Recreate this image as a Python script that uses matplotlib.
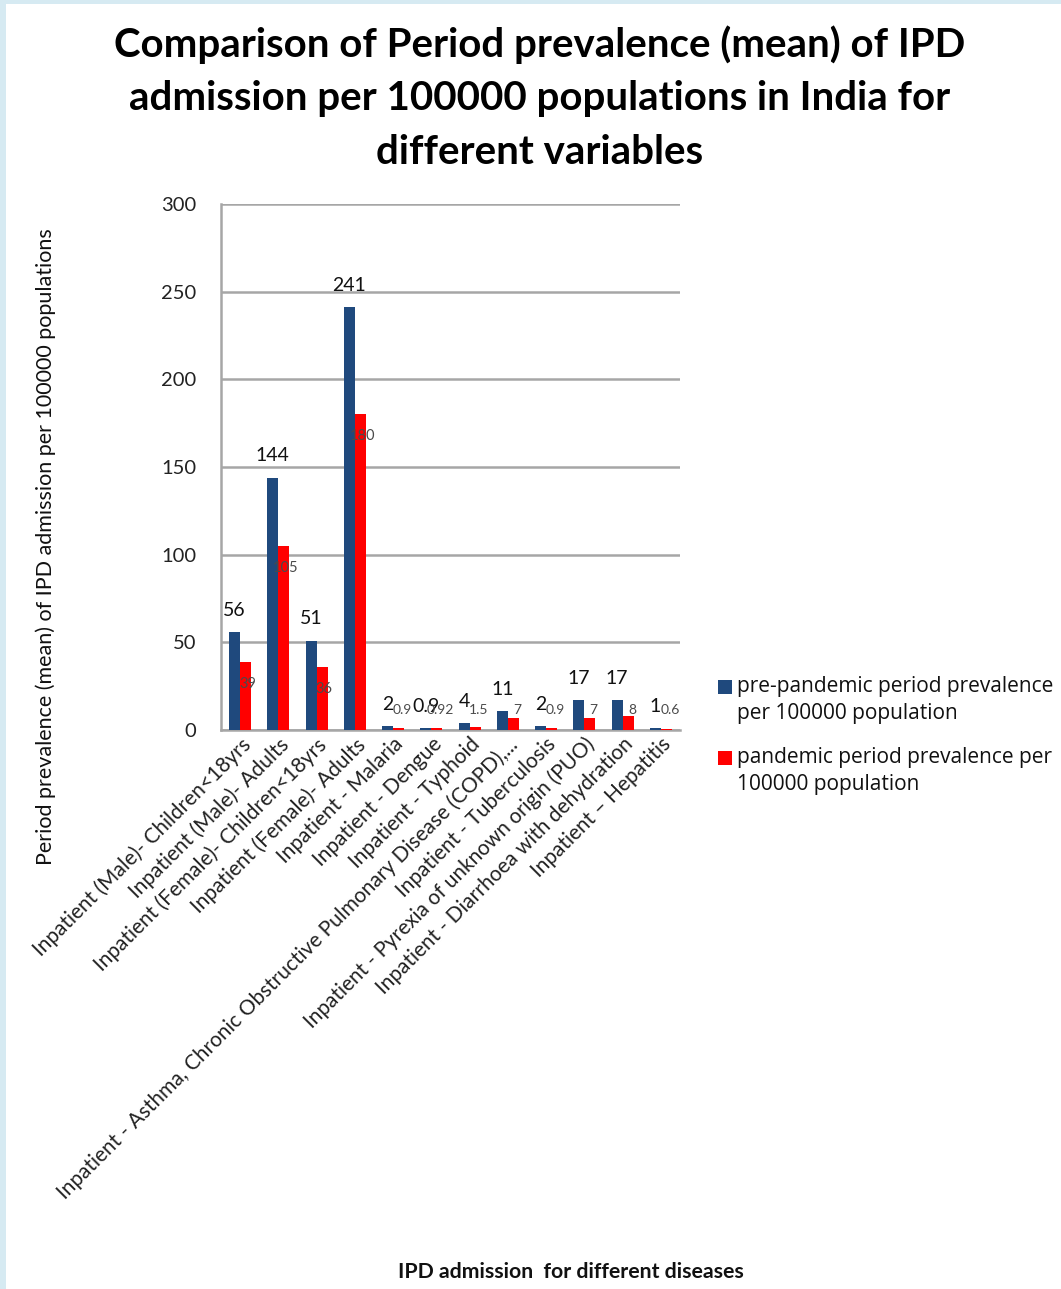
import matplotlib
matplotlib.use("Agg")
import matplotlib.pyplot as plt
from matplotlib.patches import Rectangle
import numpy as np

categories = [
    "Inpatient (Male)- Children<18yrs",
    "Inpatient (Male)- Adults",
    "Inpatient (Female)- Children<18yrs",
    "Inpatient (Female)- Adults",
    "Inpatient - Malaria",
    "Inpatient - Dengue",
    "Inpatient - Typhoid",
    "Inpatient - Asthma, Chronic Obstructive Pulmonary Disease (COPD),...",
    "Inpatient - Tuberculosis",
    "Inpatient - Pyrexia of unknown origin (PUO)",
    "Inpatient - Diarrhoea with dehydration",
    "Inpatient \u2013 Hepatitis",
]
pre_pandemic = [56, 144, 51, 241, 2, 0.9, 4, 11, 2, 17, 17, 1]
pandemic = [39, 105, 36, 180, 0.9, 0.92, 1.5, 7, 0.9, 7, 8, 0.6]
pre_labels = ["56", "144", "51", "241", "2", "0.9", "4", "11", "2", "17", "17", "1"]
pan_labels = ["39", "105", "36", "180", "0.9", "0.92", "1.5", "7", "0.9", "7", "8", "0.6"]
y_ticks = [0, 50, 100, 150, 200, 250, 300]

series_names = [
    "pre-pandemic period prevalence\nper 100000 population",
    "pandemic period prevalence per\n100000 population",
]

FONT = "Lato"
BLUE = "#1F497D"
RED = "#FF0000"
GRID = "#A6A6A6"

W, H = 1061, 1289
fig = plt.figure(figsize=(W / 100, H / 100), dpi=100)
fig.patch.set_facecolor("#D6EAF2")
fig.patches.append(Rectangle((6 / W, 0), 1 - 6 / W, 1 - 4 / H,
                             transform=fig.transFigure, facecolor="white",
                             edgecolor="none", zorder=-5))

# axes box in pixel coordinates: left 221, right 680, top 204, bottom 730
ax = fig.add_axes([221 / W, 1 - 730 / H, (680 - 221) / W, (730 - 204) / H])
ax.set_facecolor("none")

x = np.arange(len(categories))
bw = 0.29
ax.bar(x - bw / 2, pre_pandemic, bw, color=BLUE, zorder=3)
ax.bar(x + bw / 2, pandemic, bw, color=RED, zorder=3)

ax.set_xlim(-0.5, len(categories) - 0.5)
ax.set_ylim(0, 300)
ax.set_yticks(y_ticks)
ax.set_yticklabels([str(t) for t in y_ticks], fontsize=14.5, fontfamily=FONT,
                   color="#222222")
ax.yaxis.grid(True, color=GRID, linewidth=1.8, zorder=0)
ax.tick_params(axis="y", length=0, pad=18)
ax.tick_params(axis="x", length=0, pad=3)
for side in ("top", "right"):
    ax.spines[side].set_visible(False)
for side in ("left", "bottom"):
    ax.spines[side].set_color(GRID)
    ax.spines[side].set_linewidth(1.8)

ax.set_xticks(x)
ax.set_xticklabels(categories, rotation=45, ha="right", rotation_mode="anchor",
                   fontsize=15, fontfamily=FONT, color="#222222")

# value labels: pre-pandemic above its bar, pandemic inside near the top
for xi, v, lab in zip(x, pre_pandemic, pre_labels):
    ax.annotate(lab, (xi - bw / 2, v), xytext=(0, 9.5), textcoords="offset points",
                ha="center", va="bottom", fontsize=14, fontfamily=FONT,
                color="#111111", zorder=5)
for xi, v, lab in zip(x, pandemic, pan_labels):
    small = v < 15
    ax.text(xi + bw / 2 + (0.1 if small else 0.05), max(v - 12.5, 11.5), lab,
            ha="center", va="center", fontsize=10 if small else 10.5,
            fontfamily=FONT, color="#4A4A4A", zorder=5)

ax.set_ylabel("Period prevalence (mean) of IPD admission per 100000 populations",
              fontsize=15.5, fontfamily=FONT, color="#111111")
ax.yaxis.set_label_coords((56 - 221) / (680 - 221), (730 - 547) / (730 - 204))

fig.text(571 / W, 1 - 1272 / H, "IPD admission  for different diseases",
         ha="center", va="center", fontsize=15.3, fontfamily=FONT,
         fontweight="bold", color="#111111")

fig.text(540 / W, 1 - 98 / H,
         "Comparison of Period prevalence (mean) of IPD\n"
         "admission per 100000 populations in India for\n"
         "different variables",
         ha="center", va="center", fontsize=29, fontfamily=FONT,
         fontweight="bold", color="#000000", linespacing=1.55)

# legend: square swatch aligned with the first line of each entry
legend_rows = [(BLUE, 687), (RED, 758)]
for (col, yc), name in zip(legend_rows, series_names):
    fig.patches.append(Rectangle((718 / W, 1 - (yc + 7) / H), 14 / W, 14 / H,
                                 transform=fig.transFigure, facecolor=col,
                                 edgecolor="none"))
    fig.text(737 / W, 1 - (yc - 11) / H, name, ha="left", va="top",
             fontsize=15, fontfamily="Open Sans", color="#111111",
             linespacing=1.4)

fig.savefig("out.png", dpi=100, facecolor=fig.get_facecolor())
